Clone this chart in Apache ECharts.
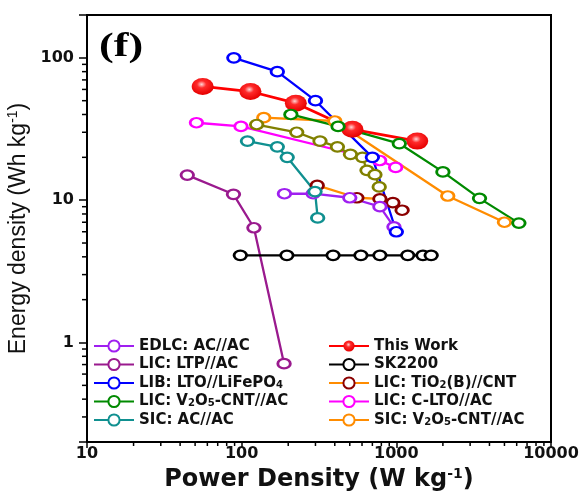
<!DOCTYPE html>
<html>
<head>
<meta charset="utf-8">
<script src="https://cdn.jsdelivr.net/npm/echarts@6/dist/echarts.min.js"></script>
<style>html,body{margin:0;padding:0;background:#fff}#c{width:583px;height:491px}</style>
</head>
<body>
<div id="c"></div>
<script>
// ---- data (power W/kg, energy Wh/kg) ----
const thisWork   = [[56,63],[114,58],[224,48],[520,31.5],[1365,26]];
const sicV2O5    = [[139,38],[400,36],[2150,10.7],[5000,7]];
const cLTO       = [[51,35],[99,33],[780,19],[990,17]];
const unlabeled  = [[125,34],[227,30],[321,26],[416,23.7],[505,21],[604,20],[646,16.2],[727,15.1],[775,12.4]];
const licV2O5    = [[208,40],[420,33],[1045,25],[2000,15.8],[3450,10.3],[6200,6.9]];
const tio2       = [[308,12.7],[556,10.4],[783,10.2],[950,9.6],[1090,8.5]];
const edlc       = [[189,11.1],[290,11.1],[500,10.4],[783,9],[965,6.5]];
const lib        = [[89,100],[170,80],[300,50],[700,20],[1000,6]];
const sicAC      = [[109,26],[170,23.7],[197,20],[298,11.5],[310,7.5]];
const ltp        = [[44.5,15],[88.5,11],[120,6.4],[188,0.71]];
const sk2200     = [[98,4.1],[196,4.1],[390,4.1],[590,4.1],[783,4.1],[1185,4.1],[1486,4.1],[1680,4.1]];

const xMinorTicks = [20,30,40,50,60,70,80,90,200,300,400,500,600,700,800,900,2000,3000,4000,5000,6000,7000,8000,9000];
const yMinorTicks = [0.3,0.4,0.5,0.6,0.7,0.8,0.9,2,3,4,5,6,7,8,9,20,30,40,50,60,70,80,90];
const X_MIN = 10, X_MAX = 10000, Y_MIN = 0.2, Y_MAX = 200;

const legendLeft  = ['EDLC: AC//AC','LIC: LTP//AC','LIB: LTO//LiFePO4','LIC: V2O5-CNT//AC','SIC: AC//AC'];
const legendRight = ['This Work','SK2200','LIC: TiO2(B)//CNT','LIC: C-LTO//AC','SIC: V2O5-CNT//AC'];
const legendRich = {
  'LIB: LTO//LiFePO4': 'LIB: LTO//LiFePO{sub|4}',
  'LIC: V2O5-CNT//AC': 'LIC: V{sub|2}O{sub|5}-CNT//AC',
  'LIC: TiO2(B)//CNT': 'LIC: TiO{sub|2}(B)//CNT',
  'SIC: V2O5-CNT//AC': 'SIC: V{sub|2}O{sub|5}-CNT//AC'
};

const ELL = 'path://M0,5A6,5 0 1,1 12,5A6,5 0 1,1 0,5Z';

function openSeries(name, data, color, lineColor) {
  return {
    name, type: 'line', data,
    symbol: ELL, symbolSize: [12.5, 9.5],
    itemStyle: { color: '#fff', borderColor: color, borderWidth: 2.5 },
    lineStyle: { color: lineColor || color, width: 2.3 },
    emphasis: { disabled: true }
  };
}

const series = [
  {
    name: 'This Work', type: 'line', data: thisWork,
    symbol: ELL, symbolSize: [22, 17],
    itemStyle: { color: { type: 'radial', x: 0.45, y: 0.38, r: 0.6,
      colorStops: [{offset: 0, color: '#ffd6d6'}, {offset: 0.35, color: '#ff2a2a'}, {offset: 1, color: '#e60000'}] },
      borderWidth: 0 },
    lineStyle: { color: '#ff0000', width: 2.8 },
    emphasis: { disabled: true }
  },
  openSeries('SIC: V2O5-CNT//AC', sicV2O5, '#ff8c00'),
  openSeries('LIC: C-LTO//AC', cLTO, '#ff00ff'),
  openSeries('Other', unlabeled, '#808000'),
  openSeries('LIC: V2O5-CNT//AC', licV2O5, '#008a00'),
  openSeries('LIC: TiO2(B)//CNT', tio2, '#8b0000', '#ff8c00'),
  openSeries('EDLC: AC//AC', edlc, '#9f1ff0'),
  openSeries('LIB: LTO//LiFePO4', lib, '#0000ff'),
  openSeries('SIC: AC//AC', sicAC, '#109090'),
  openSeries('LIC: LTP//AC', ltp, '#9a1a8e'),
  openSeries('SK2200', sk2200, '#000000')
];

function isPow10(v) { const l = Math.log10(v); return Math.abs(l - Math.round(l)) < 1e-6; }

const legendCommon = {
  orient: 'vertical', itemWidth: 40, itemHeight: 14, itemGap: 2.5, padding: 0,
  selectedMode: false,
  textStyle: { fontFamily: 'DejaVu Sans', fontWeight: 'bold', fontSize: 15, lineHeight: 16, color: '#111',
    rich: { sub: { fontFamily: 'DejaVu Sans', fontWeight: 'bold', fontSize: 10, lineHeight: 12, padding: [4, 0, 0, 0], color: '#111' } } },
  formatter: n => legendRich[n] || n
};

const option = {
  animation: false,
  backgroundColor: '#fff',
  grid: { left: 87, right: 32, top: 15, bottom: 49, show: true, borderColor: '#000', borderWidth: 2,
          containLabel: false, outerBoundsMode: 'none' },
  xAxis: {
    type: 'log', min: X_MIN, max: X_MAX, logBase: 10,
    name: 'Power Density (W kg{sup|-1})', nameLocation: 'middle', nameGap: 10,
    nameTextStyle: { fontFamily: 'DejaVu Sans', fontWeight: 'bold', fontSize: 24, color: '#111',
      rich: { sup: { fontFamily: 'DejaVu Sans', fontWeight: 'bold', fontSize: 14, padding: [0, 0, 12, 0], color: '#111' } } },
    axisLine: { lineStyle: { color: '#000', width: 2 } },
    axisTick: { inside: false, length: 6, lineStyle: { color: '#000', width: 1.5 } },
    axisLabel: { fontFamily: 'DejaVu Sans', fontWeight: 'bold', fontSize: 16, color: '#111', margin: 4,
      formatter: v => isPow10(v) ? String(Math.round(v)) : '' },
    splitLine: { show: false }
  },
  yAxis: {
    type: 'log', min: Y_MIN, max: Y_MAX, logBase: 10,
    name: 'Energy density (Wh kg{sup|-1})', nameLocation: 'middle', nameGap: 32, nameRotate: 90,
    nameTextStyle: { fontFamily: 'Liberation Sans', fontSize: 23, color: '#111',
      rich: { sup: { fontFamily: 'Liberation Sans', fontSize: 14, padding: [0, 0, 11, 0], color: '#111' } } },
    axisLine: { lineStyle: { color: '#000', width: 2 } },
    axisTick: { inside: false, length: 8, lineStyle: { color: '#000', width: 1.5 } },
    axisLabel: { fontFamily: 'DejaVu Sans', fontWeight: 'bold', fontSize: 16, color: '#111', margin: 13,
      formatter: v => isPow10(v) ? String(Math.round(v * 1000) / 1000) : '' },
    splitLine: { show: false }
  },
  legend: [
    Object.assign({}, legendCommon, { left: 93, top: 338, data: legendLeft }),
    Object.assign({}, legendCommon, { left: 328, top: 338, data: legendRight })
  ],
  series
};

const chart = echarts.init(document.getElementById('c'), null, { renderer: 'canvas' });
chart.setOption(option);

// minor ticks placed through the axes' own scales
const tickEls = [];
xMinorTicks.forEach(v => {
  const p = chart.convertToPixel({ gridIndex: 0 }, [v, Y_MIN]);
  tickEls.push({ type: 'line', silent: true, z: 10,
    shape: { x1: p[0], y1: p[1], x2: p[0], y2: p[1] + 4 }, style: { stroke: '#000', lineWidth: 1.5 } });
});
yMinorTicks.forEach(v => {
  const p = chart.convertToPixel({ gridIndex: 0 }, [X_MIN, v]);
  tickEls.push({ type: 'line', silent: true, z: 10,
    shape: { x1: p[0] - 5, y1: p[1], x2: p[0], y2: p[1] }, style: { stroke: '#000', lineWidth: 1.5 } });
});
tickEls.push({
  type: 'text', left: 99, top: 30, scaleX: 1.3, z: 10,
  style: { text: '(f)', font: 'bold 34px "Liberation Serif"', fill: '#000' }
});
chart.setOption({ graphic: tickEls });
</script>
</body>
</html>
